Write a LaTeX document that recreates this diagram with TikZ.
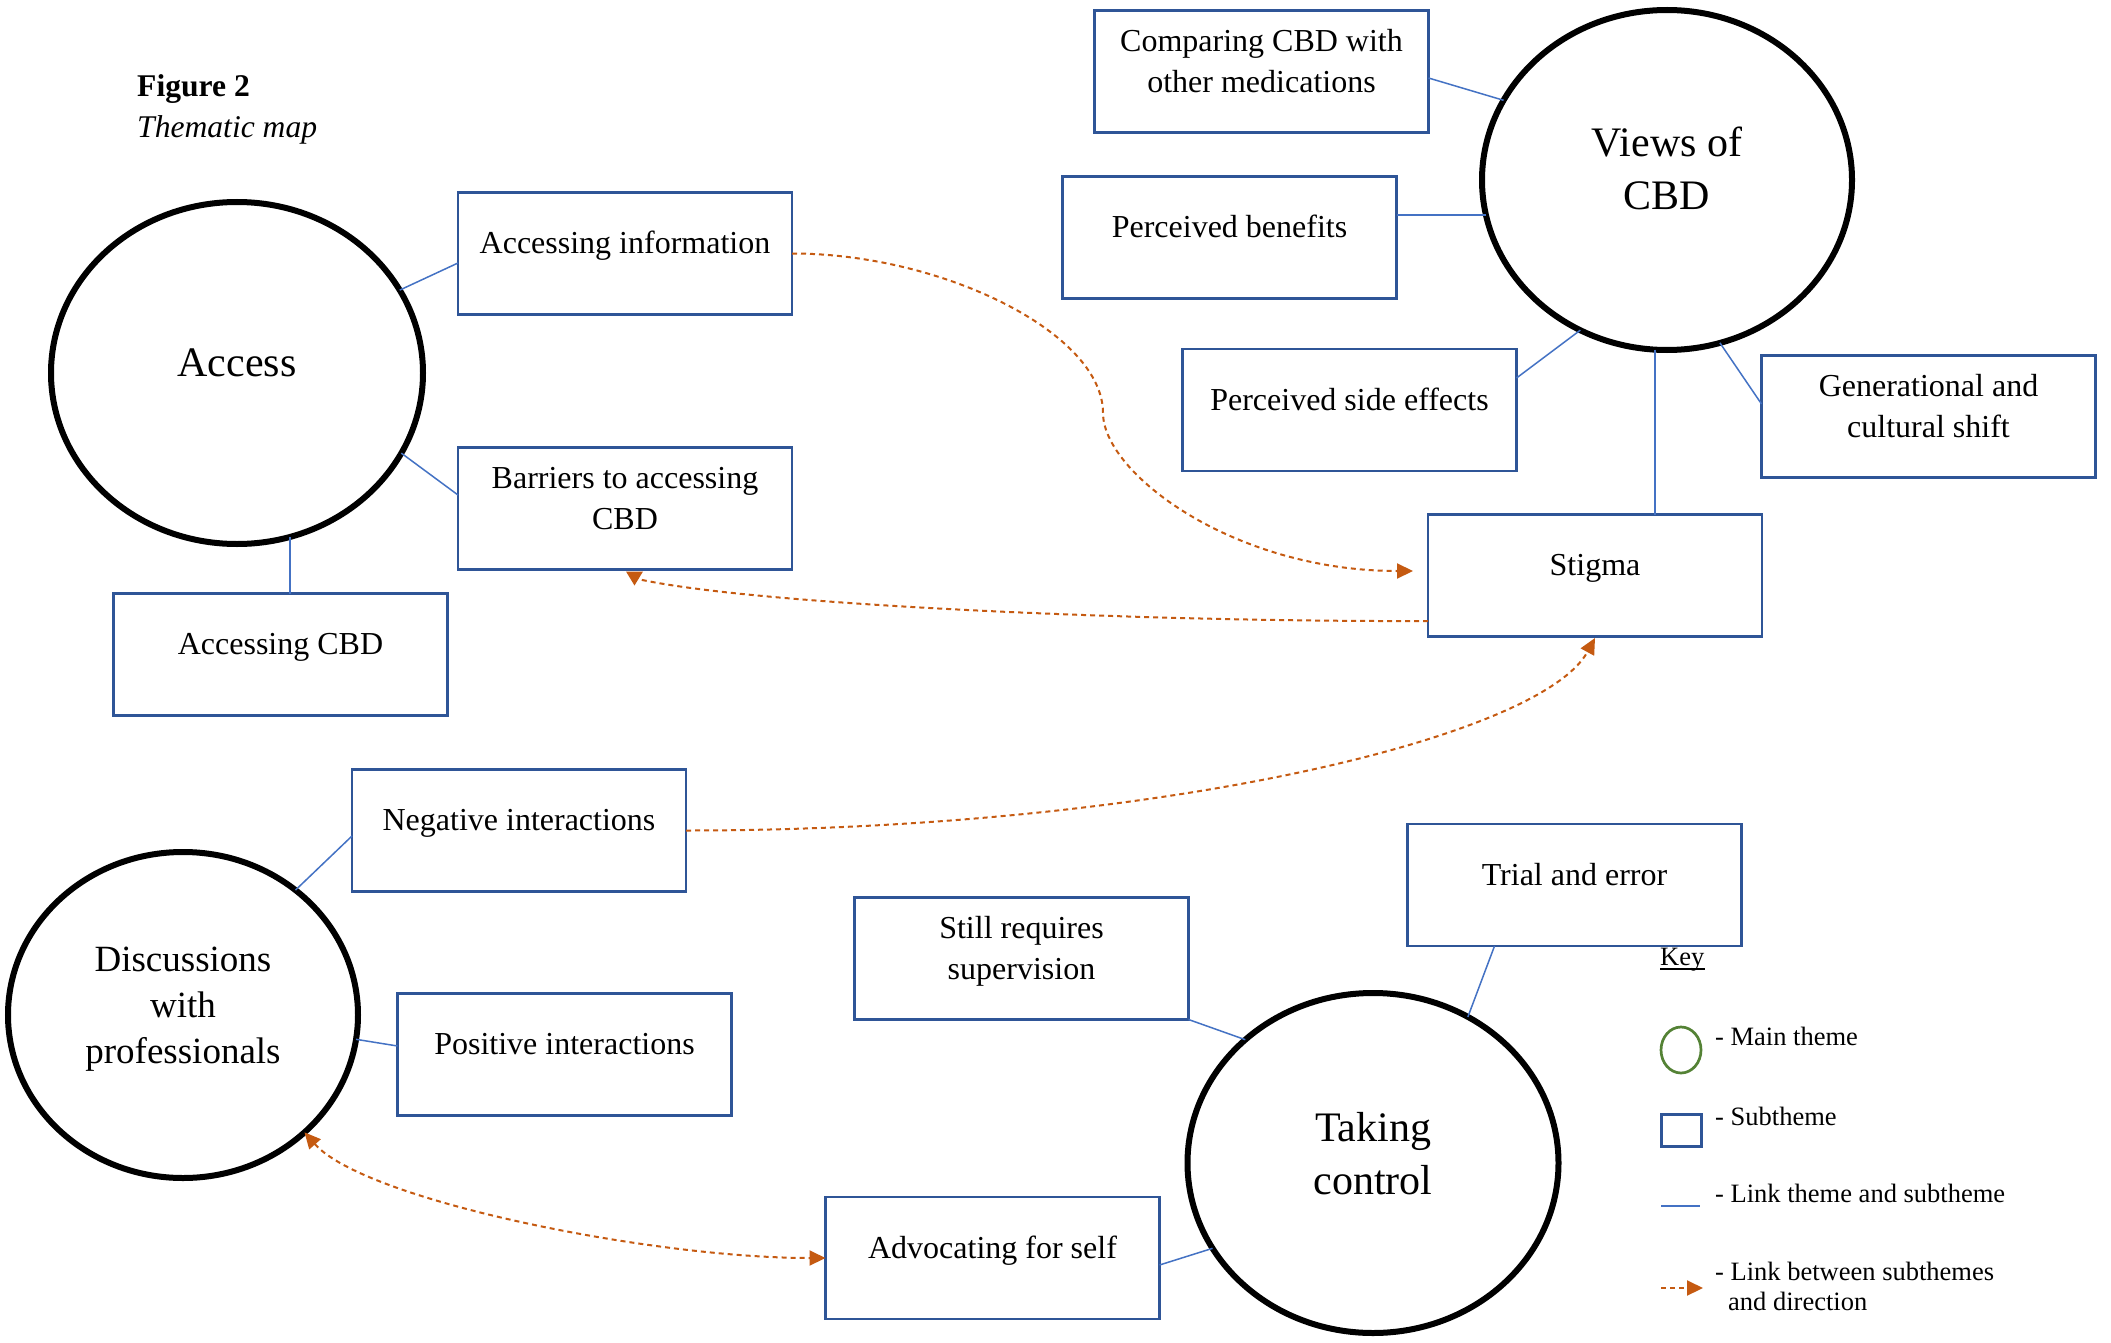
\documentclass[tikz,border=0pt]{standalone}
\usepackage{fontspec}
\setmainfont{Liberation Serif}
\usetikzlibrary{arrows.meta,shapes.geometric}
\definecolor{boxblue}{HTML}{2F5597}
\definecolor{linkblue}{HTML}{4472C4}
\definecolor{arrorange}{HTML}{C55A11}
\definecolor{keygreen}{HTML}{548235}
\begin{document}
\begin{tikzpicture}[x=1pt,y=-1pt,
  theme/.style={ellipse, draw=black, line width=6pt, inner sep=0pt, outer sep=0pt},
  subbox/.style={rectangle, draw=boxblue, line width=2.5pt, minimum width=334pt, minimum height=122pt, inner sep=0pt, outer sep=0pt},
  subtxt/.style={font=\fontsize{32}{41}\selectfont, align=center, inner sep=0pt, execute at begin node=\strut, execute at end node=\strut},
  themetxt/.style={font=\fontsize{42}{53}\selectfont, align=center, inner sep=0pt, execute at begin node=\strut, execute at end node=\strut},
  link/.style={draw=linkblue, line width=1.5pt},
  sublink/.style={draw=arrorange, line width=2pt, dash pattern=on 5pt off 4pt},
  tip/.style={-{Triangle[length=16pt,width=15pt]}},
  keytxt/.style={font=\fontsize{26.5}{30}\selectfont, anchor=base west, inner sep=0pt}
]
\fill[white] (0,0) rectangle (2111,1343);
\useasboundingbox (0,0) rectangle (2111,1343);

% title
\node[anchor=base west, inner sep=0pt, font=\fontsize{31.6}{38}\selectfont\bfseries] (fig) at (137,97) {Figure 2};
\node[anchor=base west, inner sep=0pt, font=\fontsize{31.6}{38}\selectfont\itshape] (figt) at (137,138) {Thematic map};

% main themes
\node[theme, minimum width=372pt, minimum height=342pt] (access) at (237,373) {};
\node[themetxt] (accesst) at ([yshift=7pt]access.center) {Access};
\node[theme, minimum width=370pt, minimum height=340pt] (views) at (1667,180) {};
\node[themetxt] (viewst) at ([yshift=4pt]views.center) {Views of\\CBD};
\node[theme, minimum width=350pt, minimum height=326pt] (disc) at (183,1015) {};
\node[themetxt, font=\fontsize{37}{46}\selectfont] (disct) at ([yshift=3pt]disc.center) {Discussions\\with\\professionals};
\node[theme, minimum width=371pt, minimum height=340pt] (tc) at (1373,1163) {};
\node[themetxt] (tct) at ([yshift=2pt]tc.center) {Taking\\control};

% subthemes
\node[subbox] (cmp) at (1261.5,71.5) {};
\node[subtxt] (cmpt) at ([yshift=4pt]cmp.center) {Comparing CBD with\\other medications};
\node[subbox] (pb) at (1229.5,237.5) {};
\node[subtxt] (pbt) at ([yshift=8pt]pb.center) {Perceived benefits};
\node[subbox] (pse) at (1349.5,410) {};
\node[subtxt] (pset) at ([yshift=8pt]pse.center) {Perceived side effects};
\node[subbox] (gen) at (1928.5,416.5) {};
\node[subtxt] (gent) at ([yshift=4pt]gen.center) {Generational and\\cultural shift};
\node[subbox] (ai) at (625,253.5) {};
\node[subtxt] (ait) at ([yshift=8pt]ai.center) {Accessing information};
\node[subbox] (bar) at (625,508.5) {};
\node[subtxt] (bart) at ([yshift=4pt]bar.center) {Barriers to accessing\\CBD};
\node[subbox] (acbd) at (280.5,654.5) {};
\node[subtxt] (acbdt) at ([yshift=8pt]acbd.center) {Accessing CBD};
\node[subbox] (stig) at (1595,575.5) {};
\node[subtxt] (stigt) at ([yshift=8pt]stig.center) {Stigma};
\node[subbox] (neg) at (519,830.5) {};
\node[subtxt] (negt) at ([yshift=8pt]neg.center) {Negative interactions};
\node[subbox] (pos) at (564.5,1054.5) {};
\node[subtxt] (post) at ([yshift=8pt]pos.center) {Positive interactions};
\node[subbox] (still) at (1021.5,958.5) {};
\node[subtxt] (stillt) at ([yshift=4pt]still.center) {Still requires\\supervision};
\node[subbox] (trial) at (1574.5,885) {};
\node[subtxt] (trialt) at ([yshift=8pt]trial.center) {Trial and error};
\node[subbox] (adv) at (992.5,1258) {};
\node[subtxt] (advt) at ([yshift=8pt]adv.center) {Advocating for self};

% theme-subtheme links
\draw[link] (access.27.8) -- ([yshift=-9.5pt]ai.west);
\draw[link] (access.-26) -- ([yshift=13.5pt]bar.west);
\draw[link] (access.-72.4) -- (access.-72.4 |- acbd.north);
\draw[link] (views.154) -- ([yshift=-6.5pt]cmp.east);
\draw[link] (views.191.9) -- (views.191.9 -| pb.east);
\draw[link] (views.-120) -- ([yshift=32pt]pse.east);
\draw[link] (views.-72.6) -- ([yshift=12.5pt]gen.west);
\draw[link] (views.-94.7) -- (views.-94.7 |- stig.north);
\draw[link] (disc.48.8) -- ([yshift=-5.5pt]neg.west);
\draw[link] (disc.-8.5) -- ([yshift=8.5pt]pos.west);
\draw[link] (tc.136.3) -- (still.south east);
\draw[link] (tc.57) -- ([xshift=-80pt]trial.south);
\draw[link] (tc.-152) -- ([yshift=-7pt]adv.east);

% links between subthemes
\coordinate (m1) at (1103,413);
\draw[sublink, tip] (ai.east) .. controls +(150,0) and +(0,-80) .. (m1)
  .. controls +(0,60) and +(-180,0) .. ([xshift=-15pt,yshift=4.5pt]stig.west);
\coordinate (b1) at ([xshift=15pt,yshift=-10pt]bar.south);
\draw[sublink] ([yshift=-45.5pt]stig.west) .. controls +(-278,1) and +(120,26) .. (b1);
\fill[arrorange] ([xshift=1pt,yshift=-2pt]bar.south) -- ++(17,0) -- ++(-8.5,14) -- cycle;
\draw[sublink, tip] (neg.east) .. controls +(463,0) and +(-55,101) .. ([yshift=-1.5pt]stig.south);
\draw[sublink, {Triangle[length=16pt,width=15pt]}-{Triangle[length=16pt,width=15pt]}]
  (disc.-44) .. controls +(60,68) and +(-175,0) .. (adv.west);

% key
\node[keytxt] (key) at (1660,965) {Key};
\draw[line width=1.5pt] ([yshift=-4pt]key.base west) -- ([yshift=-4pt]key.base east);
\node[ellipse, draw=keygreen, line width=2.7pt, minimum width=40pt, minimum height=46pt, inner sep=0pt] (kmain) at (1681,1050) {};
\node[keytxt] (kmaint) at (1715,1045) {- Main theme};
\node[rectangle, draw=boxblue, line width=3pt, minimum width=40pt, minimum height=32pt, inner sep=0pt] (ksub) at (1681,1130) {};
\node[keytxt] (ksubt) at (1715,1125) {- Subtheme};
\coordinate (kl1) at (1661,1206);
\coordinate (kl2) at (1700,1206);
\draw[link] (kl1) -- (kl2);
\node[keytxt] (klinkt) at (1715,1202) {- Link theme and subtheme};
\coordinate (ka1) at (1661,1288);
\coordinate (ka2) at (1703,1288);
\draw[sublink, tip] (ka1) -- (ka2);
\node[keytxt] (karrt) at (1715,1280) {- Link between subthemes};
\node[keytxt] (karrt2) at (1728,1310) {and direction};
\end{tikzpicture}
\end{document}
